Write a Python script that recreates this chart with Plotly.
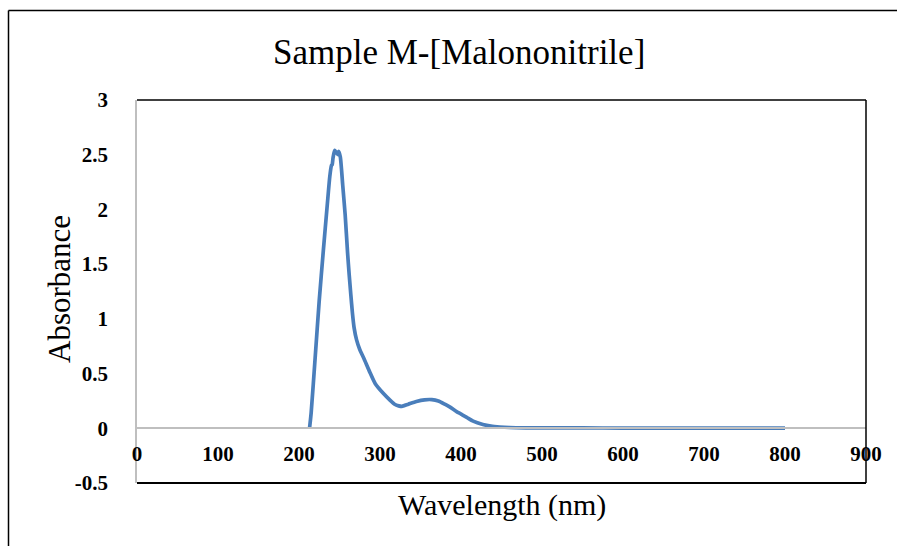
import plotly.graph_objects as go

# ---- data ----
wavelength = [213, 215, 220, 225, 230, 235, 238, 240, 241, 242, 244, 246, 248, 249, 251,
              254, 257, 260, 262, 264, 266, 268, 271, 275, 280, 287, 294, 304, 312, 318, 323,
              327, 335, 345, 355, 364, 372, 380, 386, 395, 400, 407, 415, 427, 437, 448,
              460, 480, 500, 550, 600, 650, 700, 750, 800]
absorbance = [0.00, 0.14, 0.65, 1.17, 1.62, 2.05, 2.30, 2.40, 2.41, 2.47, 2.54, 2.52, 2.50, 2.53, 2.48,
              2.22, 1.95, 1.60, 1.40, 1.22, 1.05, 0.92, 0.81, 0.72, 0.64, 0.52, 0.41, 0.32, 0.26, 0.22, 0.205,
              0.20, 0.22, 0.245, 0.26, 0.262, 0.25, 0.22, 0.195, 0.15, 0.13, 0.10, 0.065, 0.035, 0.02, 0.012,
              0.007, 0.004, 0.003, 0.003, 0.002, 0.002, 0.002, 0.002, 0.002]

x_tickvals = [0, 100, 200, 300, 400, 500, 600, 700, 800, 900]
y_tickvals = [-0.5, 0, 0.5, 1, 1.5, 2, 2.5, 3]
y_ticktext = ["-0.5", "0", "0.5", "1", "1.5", "2", "2.5", "3"]

title_text = "Sample M-[Malononitrile]"
x_title = "Wavelength (nm)"
y_title = "Absorbance"

# ---- layout geometry (pixels) ----
W, H = 897, 546
L, R, T, B = 137, 866, 100, 483
YMIN, YMAX = -0.5, 3.0
pw, ph = R - L, B - T

def px_x(p):
    return (p - L) / pw

def px_y(p):
    return (B - p) / ph

FONT = "Liberation Serif, Times New Roman, serif"

fig = go.Figure()
fig.add_trace(go.Scatter(x=wavelength, y=absorbance, mode="lines",
                         line=dict(color="#4A7EBB", width=3.7, shape="spline", smoothing=0.6),
                         showlegend=False, hoverinfo="skip"))

fig.update_layout(
    width=W, height=H,
    margin=dict(l=L, r=W - R, t=T, b=H - B),
    paper_bgcolor="white", plot_bgcolor="white",
    font=dict(family=FONT, color="black"),
    xaxis=dict(range=[0, 900], tickvals=x_tickvals, showgrid=False, zeroline=False,
               anchor="free", position=(0 - YMIN) / (YMAX - YMIN),
               showline=True, linecolor="#BFBFBF", linewidth=1.5,
               ticks="", ticklabelstandoff=7,
               tickfont=dict(family=FONT, size=21, color="black", weight="bold")),
    yaxis=dict(range=[YMIN, YMAX], tickvals=y_tickvals, ticktext=y_ticktext,
               showgrid=False, zeroline=False,
               showline=True, linecolor="#BFBFBF", linewidth=1.5,
               ticks="", ticklabelstandoff=23,
               tickfont=dict(family=FONT, size=21, color="black", weight="bold")),
    shapes=[
        dict(type="line", xref="paper", yref="paper", x0=0, x1=1, y0=1, y1=1,
             line=dict(color="black", width=1.5)),
        dict(type="line", xref="paper", yref="paper", x0=1, x1=1, y0=0, y1=1,
             line=dict(color="black", width=1.5)),
        dict(type="line", xref="paper", yref="paper", x0=0, x1=1, y0=0, y1=0,
             line=dict(color="black", width=2)),
        # outer chart border (left and top only visible)
        dict(type="line", xref="paper", yref="paper", x0=px_x(8.5), x1=px_x(8.5),
             y0=px_y(10.5), y1=px_y(560), line=dict(color="black", width=1.5)),
        dict(type="line", xref="paper", yref="paper", x0=px_x(8.5), x1=px_x(910),
             y0=px_y(10.5), y1=px_y(10.5), line=dict(color="black", width=1.5)),
    ],
    annotations=[
        dict(text=title_text, xref="paper", yref="paper", x=px_x(459), y=px_y(52),
             xanchor="center", yanchor="middle", showarrow=False,
             font=dict(family=FONT, size=35, color="black")),
        dict(text=x_title, xref="paper", yref="paper", x=px_x(502), y=px_y(505),
             xanchor="center", yanchor="middle", showarrow=False,
             font=dict(family=FONT, size=30, color="black")),
        dict(text=y_title, xref="paper", yref="paper", x=px_x(59), y=px_y(289),
             xanchor="center", yanchor="middle", showarrow=False, textangle=-90,
             font=dict(family=FONT, size=31, color="black")),
    ],
)

fig.write_html("out.html")
